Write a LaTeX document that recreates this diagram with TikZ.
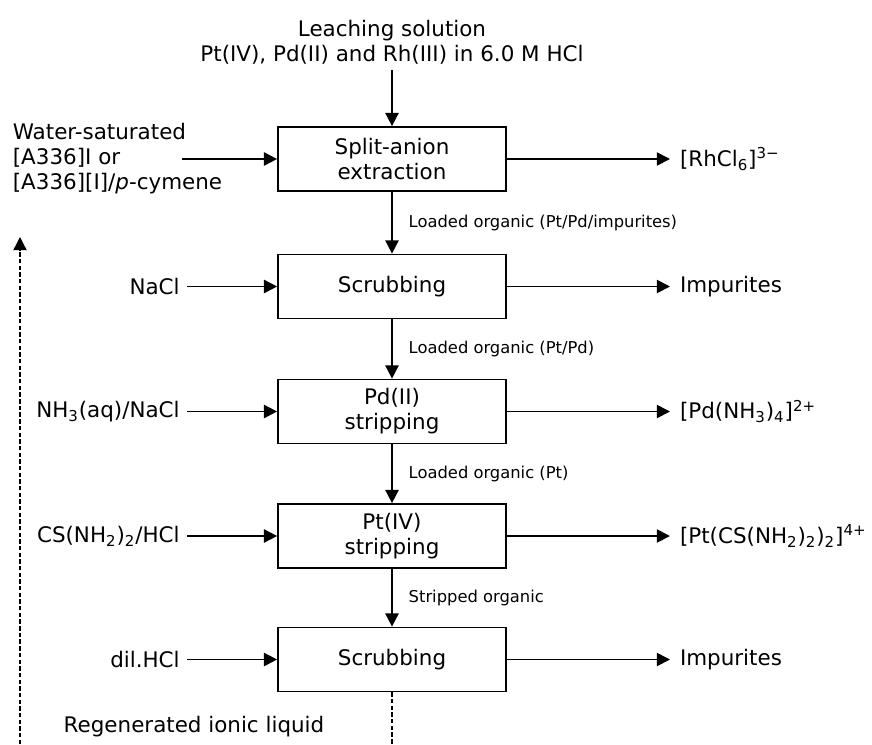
\documentclass[tikz,border=0pt]{standalone}
\usepackage{fontspec}
\setmainfont{DejaVu Sans}
\usetikzlibrary{arrows.meta}
\begin{document}
\begin{tikzpicture}[x=0.02cm, y=-0.02cm, >={Triangle[length=7.5pt,width=7.5pt]},
  every node/.style={font=\fontsize{12.2}{14.2}\selectfont},
  unit/.style={draw, line width=1pt, minimum width=4.56cm, minimum height=1.28cm, align=center},
  feed/.style={anchor=east, inner sep=4pt},
  product/.style={anchor=west, inner sep=5.5pt},
  stream/.style={font=\fontsize{9.3}{11}\selectfont, anchor=west, xshift=0.2cm},
  flow/.style={->, line width=1pt},
  recycle/.style={line width=0.8pt, dash pattern=on 2.5pt off 1.3pt}]
  \useasboundingbox (0,0) rectangle (872,744);

  \node[align=center] (leach) at (392,42) {Leaching solution\\Pt(IV), Pd(II) and Rh(III) in 6.0 M HCl};
  \node[unit] (extr) at (392,159) {Split-anion\\extraction};
  \node[unit] (scrub1) at (392,286.5) {Scrubbing};
  \node[unit] (pdstrip) at (392,411.5) {Pd(II)\\stripping};
  \node[unit] (ptstrip) at (392,536) {Pt(IV)\\stripping};
  \node[unit] (scrub2) at (392,659.5) {Scrubbing};

  \node[anchor=west, align=left, inner sep=2pt] (il) at (9,159) {Water-saturated\\{}[A336]I or\\{}[A336][I]/\textit{p}-cymene};
  \coordinate (ilend) at (182,159);
  \node[feed] (nacl) at (187,286.5) {NaCl};
  \node[feed] (ammonia) at (187,411.5) {NH\textsubscript{3}(aq)/NaCl};
  \node[feed] (thiourea) at (187,536) {CS(NH\textsubscript{2})\textsubscript{2}/HCl};
  \node[feed] (dilhcl) at (187,659.5) {dil.HCl};

  \node[product] (rh) at (670,159) {[RhCl\textsubscript{6}]\textsuperscript{3−}};
  \node[product] (imp1) at (670,286.5) {Impurites};
  \node[product] (pd) at (670,411.5) {[Pd(NH\textsubscript{3})\textsubscript{4}]\textsuperscript{2+}};
  \node[product] (pt) at (670,536) {[Pt(CS(NH\textsubscript{2})\textsubscript{2})\textsubscript{2}]\textsuperscript{4+}};
  \node[product] (imp2) at (670,659.5) {Impurites};

  \draw[flow] (leach) -- (extr);
  \draw[flow] (extr) -- node[stream] {Loaded organic (Pt/Pd/impurites)} (scrub1);
  \draw[flow] (scrub1) -- node[stream] {Loaded organic (Pt/Pd)} (pdstrip);
  \draw[flow] (pdstrip) -- node[stream] {Loaded organic (Pt)} (ptstrip);
  \draw[flow] (ptstrip) -- node[stream] {Stripped organic} (scrub2);

  \draw[flow] (ilend) -- (extr);
  \draw[flow] (nacl) -- (scrub1);
  \draw[flow] (ammonia) -- (pdstrip);
  \draw[flow] (thiourea) -- (ptstrip);
  \draw[flow] (dilhcl) -- (scrub2);

  \draw[flow] (extr) -- (rh);
  \draw[flow] (scrub1) -- (imp1);
  \draw[flow] (pdstrip) -- (pd);
  \draw[flow] (ptstrip) -- (pt);
  \draw[flow] (scrub2) -- (imp2);

  \coordinate (regend) at (392,744);
  \coordinate (loopstart) at (20,744);
  \coordinate (looptop) at (20,237);
  \draw[recycle] (scrub2) -- (regend);
  \draw[recycle, ->] (loopstart) -- (looptop);
  \node (regen) at (194,727) {Regenerated ionic liquid};
\end{tikzpicture}
\end{document}
